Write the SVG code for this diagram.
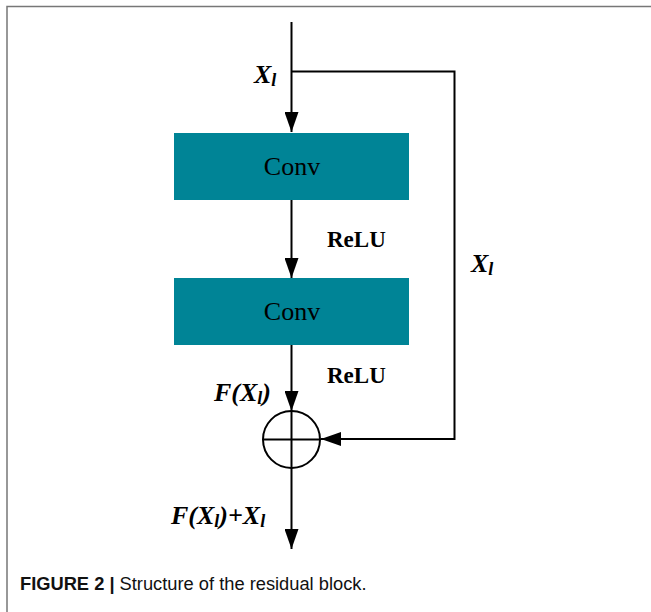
<svg xmlns="http://www.w3.org/2000/svg" width="651" height="612" viewBox="0 0 651 612">
<style>
.box{fill:#008496;}
.ln{stroke:#000;stroke-width:2;fill:none;}
.conv{font-family:"Liberation Serif",serif;font-size:26px;fill:#000;}
.relu{font-family:"Liberation Serif",serif;font-size:23px;font-weight:bold;fill:#000;}
.var{font-family:"Liberation Serif",serif;font-size:26px;font-weight:bold;font-style:italic;fill:#000;}
.sub{font-size:18px;}
.cap{font-family:"Liberation Sans",sans-serif;font-size:18.3px;fill:#111;}
</style>
<defs>
<marker id="arr" viewBox="0 0 20 14" refX="20" refY="7" markerWidth="20" markerHeight="14" markerUnits="userSpaceOnUse" orient="auto">
<path d="M0,0 L20,7 L0,14 Z" fill="#000"/>
</marker>
</defs>
<rect x="0" y="0" width="651" height="612" fill="#fff"/>
<path d="M7,612 V6.5 H651" stroke="#777" stroke-width="1.5" fill="none"/>
<g id="connectors">
<line class="ln" x1="291.5" y1="22" x2="291.5" y2="132" marker-end="url(#arr)"/>
<polyline class="ln" points="291.5,71.5 454.5,71.5 454.5,439 321,439" marker-end="url(#arr)"/>
<line class="ln" x1="291.5" y1="200" x2="291.5" y2="278" marker-end="url(#arr)"/>
<line class="ln" x1="291.5" y1="345" x2="291.5" y2="411" marker-end="url(#arr)"/>
<line class="ln" x1="291.5" y1="468" x2="291.5" y2="549" marker-end="url(#arr)"/>
</g>
<g id="conv1">
<rect class="box" x="174" y="133" width="235" height="67"/>
<text class="conv" x="292" y="175" text-anchor="middle">Conv</text>
</g>
<g id="conv2">
<rect class="box" x="174" y="278" width="235" height="67"/>
<text class="conv" x="292" y="320" text-anchor="middle">Conv</text>
</g>
<g id="sum">
<circle cx="291.5" cy="439.5" r="28.5" fill="#fff" stroke="#000" stroke-width="2"/>
<line class="ln" x1="263" y1="439.5" x2="320" y2="439.5"/>
<line class="ln" x1="291.5" y1="411" x2="291.5" y2="468"/>
</g>
<g id="labels">
<text class="var" x="254" y="83">X<tspan class="sub" dy="3">l</tspan></text>
<text class="var" x="471" y="272">X<tspan class="sub" dy="3">l</tspan></text>
<text class="relu" x="327" y="247">ReLU</text>
<text class="relu" x="327" y="383">ReLU</text>
<text class="var" x="214" y="401">F(X<tspan class="sub" dy="3">l</tspan><tspan dy="-3">)</tspan></text>
<text class="var" x="171" y="524">F(X<tspan class="sub" dy="3">l</tspan><tspan dy="-3">)+X</tspan><tspan class="sub" dy="3">l</tspan></text>
</g>
<text class="cap" x="20" y="590"><tspan font-weight="bold">FIGURE 2 |</tspan> Structure of the residual block.</text>
</svg>
